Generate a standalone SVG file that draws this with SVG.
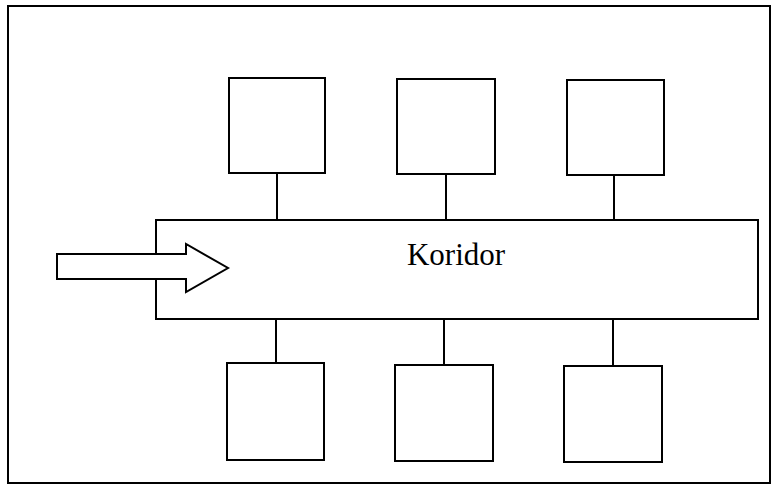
<svg xmlns="http://www.w3.org/2000/svg" width="777" height="486" viewBox="0 0 777 486">
  <style>
    .frame { fill: none; stroke: #000; stroke-width: 2; }
    .box { fill: #fff; stroke: #000; stroke-width: 2; }
    .link { stroke: #000; stroke-width: 2; fill: none; }
    .label { font-family: "Liberation Serif", "Times New Roman", serif; font-size: 31px; fill: #000; }
  </style>
  <rect width="777" height="486" fill="#fff"/>
  <!-- outer border -->
  <rect class="frame" x="8" y="6" width="762" height="477"/>

  <!-- connectors between rooms and corridor -->
  <g id="connectors">
    <line class="link" x1="277" y1="173" x2="277" y2="220"/>
    <line class="link" x1="446" y1="174" x2="446" y2="220"/>
    <line class="link" x1="614" y1="175" x2="614" y2="220"/>
    <line class="link" x1="276" y1="319" x2="276" y2="363"/>
    <line class="link" x1="444" y1="319" x2="444" y2="365"/>
    <line class="link" x1="613" y1="319" x2="613" y2="366"/>
  </g>

  <g id="corridor">
    <rect class="box" x="156" y="220" width="602" height="99"/>
    <text class="label" x="456" y="265" text-anchor="middle">Koridor</text>
  </g>

  <g id="room-top-1"><rect class="box" x="229" y="78" width="96" height="95"/></g>
  <g id="room-top-2"><rect class="box" x="397" y="79" width="98" height="95"/></g>
  <g id="room-top-3"><rect class="box" x="567" y="80" width="97" height="95"/></g>
  <g id="room-bottom-1"><rect class="box" x="227" y="363" width="97" height="97"/></g>
  <g id="room-bottom-2"><rect class="box" x="395" y="365" width="98" height="96"/></g>
  <g id="room-bottom-3"><rect class="box" x="564" y="366" width="98" height="96"/></g>

  <!-- entrance arrow -->
  <g id="entrance-arrow">
    <polygon class="box" points="57,254 186,254 186,244 228,268 186,292 186,279 57,279"/>
  </g>
</svg>
